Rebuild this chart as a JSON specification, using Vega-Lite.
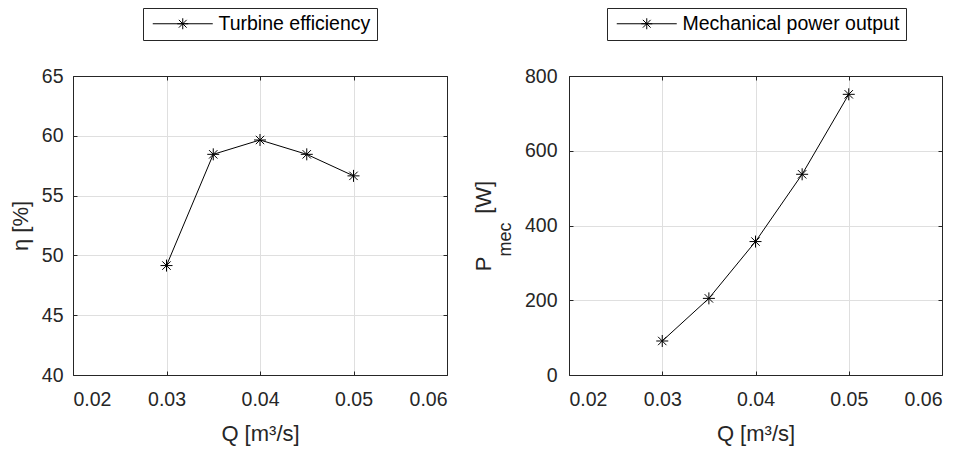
{
  "$schema": "https://vega.github.io/schema/vega-lite/v6.json",
  "background": "white",
  "padding": {"left": 9, "top": 7, "right": 5, "bottom": 5},
  "spacing": 24,
  "resolve": {"scale": {"color": "independent"}, "legend": {"color": "independent"}},
  "config": {
    "view": {"stroke": null},
    "font": "Liberation Sans",
    "axis": {
      "labelFont": "Liberation Sans",
      "labelFontSize": 19.5,
      "labelColor": "#262626",
      "titleFont": "Liberation Sans",
      "titleFontSize": 22,
      "titleFontWeight": "normal",
      "titleColor": "#262626",
      "gridColor": "#dfdfdf",
      "gridWidth": 1,
      "tickColor": "#262626",
      "tickSize": -4,
      "domain": true,
      "domainColor": "#262626",
      "domainWidth": 1
    },
    "legend": {
      "orient": "none",
      "legendY": -68,
      "title": null,
      "symbolType": "M-6,0L6,0M0,-1.1L0,1.1M-1.1,0L1.1,0M-0.78,-0.78L0.78,0.78M-0.78,0.78L0.78,-0.78",
      "symbolSize": 100,
      "symbolStrokeWidth": 1,
      "symbolStrokeColor": "#000000",
      "symbolOffset": 24,
      "labelOffset": 26,
      "labelFont": "Liberation Sans",
      "labelFontSize": 19.5,
      "labelColor": "#000000",
      "labelLimit": 0,
      "strokeColor": "#262626",
      "fillColor": "white",
      "padding": 6
    }
  },
  "hconcat": [
    {
      "width": 374,
      "height": 299,
      "data": {"values": [
        {"Q": 0.030, "eta": 49.15, "series": "Turbine efficiency"},
        {"Q": 0.035, "eta": 58.45, "series": "Turbine efficiency"},
        {"Q": 0.040, "eta": 59.65, "series": "Turbine efficiency"},
        {"Q": 0.045, "eta": 58.45, "series": "Turbine efficiency"},
        {"Q": 0.050, "eta": 56.65, "series": "Turbine efficiency"}
      ]},
      "layer": [
        {
          "mark": {"type": "line", "color": "#000000", "strokeWidth": 1},
          "encoding": {
            "x": {"field": "Q", "type": "quantitative",
              "scale": {"domain": [0.02, 0.06], "nice": false, "zero": false},
              "axis": {"orient": "bottom", "title": "Q [m³/s]", "values": [0.02, 0.03, 0.04, 0.05, 0.06], "format": ".2f", "grid": true, "labelPadding": 19, "titlePadding": 15}},
            "y": {"field": "eta", "type": "quantitative",
              "scale": {"domain": [40, 65], "nice": false, "zero": false},
              "axis": {"orient": "left", "title": "η [%]", "values": [40, 45, 50, 55, 60, 65], "grid": true, "labelPadding": 14, "titlePadding": 9}}
          }
        },
        {
          "mark": {"type": "point", "shape": "M-1,0L1,0M0,-1L0,1M-0.7,-0.7L0.7,0.7M-0.7,0.7L0.7,-0.7", "size": 144, "filled": false, "strokeWidth": 1, "opacity": 1},
          "encoding": {
            "x": {"field": "Q", "type": "quantitative",
              "axis": {"orient": "top", "labels": false, "title": null, "grid": false, "values": [0.02, 0.03, 0.04, 0.05, 0.06]}},
            "y": {"field": "eta", "type": "quantitative",
              "axis": {"orient": "right", "labels": false, "title": null, "grid": false, "values": [40, 45, 50, 55, 60, 65]}},
            "color": {"field": "series", "type": "nominal", "scale": {"range": ["#000000"]},
              "legend": {"legendX": 70, "legendY": -68}}
          }
        }
      ]
    },
    {
      "width": 373,
      "height": 299,
      "data": {"values": [
        {"Q": 0.030, "P": 91, "series": "Mechanical power output"},
        {"Q": 0.035, "P": 205, "series": "Mechanical power output"},
        {"Q": 0.040, "P": 357, "series": "Mechanical power output"},
        {"Q": 0.045, "P": 537, "series": "Mechanical power output"},
        {"Q": 0.050, "P": 751, "series": "Mechanical power output"}
      ]},
      "layer": [
        {
          "mark": {"type": "line", "color": "#000000", "strokeWidth": 1},
          "encoding": {
            "x": {"field": "Q", "type": "quantitative",
              "scale": {"domain": [0.02, 0.06], "nice": false, "zero": false},
              "axis": {"orient": "bottom", "title": "Q [m³/s]", "values": [0.02, 0.03, 0.04, 0.05, 0.06], "format": ".2f", "grid": true, "labelPadding": 19, "titlePadding": 15}},
            "y": {"field": "P", "type": "quantitative",
              "scale": {"domain": [0, 800], "nice": false, "zero": false},
              "axis": {"orient": "left", "title": "P\u00a0\u00a0\u00a0\u00a0\u00a0\u00a0\u00a0[W]", "values": [0, 200, 400, 600, 800], "grid": true, "labelPadding": 16, "titlePadding": 29}}
          }
        },
        {
          "mark": {"type": "point", "shape": "M-1,0L1,0M0,-1L0,1M-0.7,-0.7L0.7,0.7M-0.7,0.7L0.7,-0.7", "size": 144, "filled": false, "strokeWidth": 1, "opacity": 1},
          "encoding": {
            "x": {"field": "Q", "type": "quantitative",
              "axis": {"orient": "top", "labels": false, "title": null, "grid": false, "values": [0.02, 0.03, 0.04, 0.05, 0.06]}},
            "y": {"field": "P", "type": "quantitative",
              "axis": {"orient": "right", "labels": false, "title": null, "grid": false, "values": [0, 200, 400, 600, 800]}},
            "color": {"field": "series", "type": "nominal", "scale": {"range": ["#000000"]},
              "legend": {"legendX": 38, "legendY": -68}}
          }
        },
        {
          "mark": {"type": "point", "opacity": 0},
          "encoding": {
            "x": {"field": "Q", "type": "quantitative", "axis": null},
            "y": {"field": "P", "type": "quantitative",
              "axis": {"orient": "left", "labels": false, "ticks": false, "domain": false, "grid": false, "title": "mec", "titleFontSize": 18, "titleX": -64, "titleY": 163, "titleBaseline": "middle", "titleAlign": "center", "titleAngle": -90}}
          }
        }
      ]
    }
  ]
}
